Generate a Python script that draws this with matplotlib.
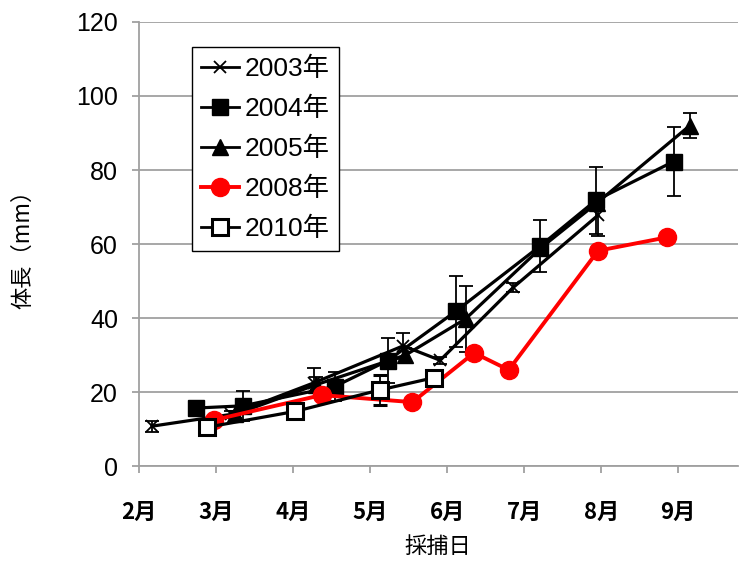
import matplotlib
matplotlib.use("Agg")
import matplotlib.pyplot as plt
from matplotlib.lines import Line2D

plt.rcParams['font.family'] = ['Noto Sans CJK JP', 'DejaVu Sans']

# x in month units (2 = Feb 1, 3 = Mar 1, ...)
x2003 = [2.17, 3.2, 4.27, 5.43, 5.91, 6.86, 7.96]
y2003 = [10.8, 14.0, 22.5, 32.5, 28.6, 48.3, 67.8]
e2003 = [1.5, 1.0, 4.0, 3.5, 1.0, 1.2, 5.5]

x2004 = [2.74, 3.35, 4.54, 5.23, 6.11, 7.21, 7.93, 8.94]
y2004 = [15.7, 16.3, 21.5, 28.5, 41.8, 59.5, 71.8, 82.3]
e2004 = [0.8, 4.0, 4.0, 6.0, 9.5, 7.0, 9.0, 9.3]

x2005 = [3.25, 4.3, 5.46, 6.24, 7.22, 7.94, 9.15]
y2005 = [14.0, 22.0, 30.0, 39.8, 59.0, 71.0, 92.0]
e2005 = [1.0, 2.0, 2.0, 9.0, 2.0, 2.0, 3.4]

x2008 = [2.98, 4.37, 5.55, 6.35, 6.8, 7.96, 8.85]
y2008 = [12.5, 19.2, 17.3, 30.6, 26.0, 58.2, 61.8]

x2010 = [2.88, 4.03, 5.13, 5.83]
y2010 = [10.5, 14.8, 20.6, 23.9]
e2010 = [1.0, 1.5, 4.0, 1.5]

month_ticks = [2, 3, 4, 5, 6, 7, 8, 9]
month_labels = ['2月', '3月', '4月', '5月', '6月', '7月', '8月', '9月']
y_ticks = [0, 20, 40, 60, 80, 100, 120]

fig = plt.figure(figsize=(7.39, 5.63), dpi=100)
ax = fig.add_axes([0.188, 0.172, 0.81, 0.789])

lw = 2.3
ekw = dict(ecolor='black', elinewidth=1.3, capsize=5, capthick=1.3)

styles = {
    '2003年': dict(color='black', marker='x', markersize=8, markeredgewidth=1.3),
    '2004年': dict(color='black', marker='s', markersize=11),
    '2005年': dict(color='black', marker='^', markersize=11),
    '2008年': dict(color='#ff0000', marker='o', markersize=13),
    '2010年': dict(color='black', marker='s', markersize=12,
                  markerfacecolor='white', markeredgewidth=2.2),
}

ax.errorbar(x2003, y2003, yerr=e2003, lw=lw, zorder=3, **styles['2003年'], **ekw)
ax.errorbar(x2004, y2004, yerr=e2004, lw=lw, zorder=3, **styles['2004年'], **ekw)
ax.errorbar(x2005, y2005, yerr=e2005, lw=lw, zorder=3, **styles['2005年'], **ekw)
ax.plot(x2008, y2008, lw=lw + 0.5, zorder=4, **styles['2008年'])
ax.errorbar(x2010, y2010, yerr=e2010, lw=lw, zorder=5, **styles['2010年'], **ekw)

ax.set_xlim(2, 9.77)
ax.set_ylim(0, 120)
ax.set_xticks(month_ticks)
ax.set_xticklabels(month_labels, fontsize=16, fontweight='bold')
ax.set_yticks(y_ticks)
ax.set_yticklabels([str(v) for v in y_ticks], family=['Liberation Sans'], fontsize=18)

ax.grid(axis='y', color='#a0a0a0', lw=1.3)
ax.set_axisbelow(True)
for s in ['top', 'right']:
    ax.spines[s].set_visible(False)
for s in ['left', 'bottom']:
    ax.spines[s].set_color('#a0a0a0')
    ax.spines[s].set_linewidth(1.3)
ax.tick_params(axis='x', direction='out', length=5, color='#a0a0a0', width=1.3, pad=20)
ax.tick_params(axis='y', direction='out', length=5, color='#a0a0a0', width=1.3, pad=10)

ax.set_xlabel('採捕日', fontsize=16, labelpad=8)
ax.set_ylabel('体長（mm）', fontsize=16, labelpad=30)

handles = []
labels = []
for name, st in styles.items():
    handles.append(Line2D([], [], lw=2.0 if name != '2008年' else 2.8, **st))
    labels.append(name)

leg = ax.legend(handles, labels, loc='upper left', bbox_to_anchor=(0.088, 0.943),
                frameon=True, fancybox=False, edgecolor='black', framealpha=1,
                handlelength=1.45, handletextpad=0.22, labelspacing=0.6,
                borderpad=0.35, borderaxespad=0,
                prop={'family': ['Liberation Sans', 'Noto Sans CJK JP'], 'size': 19})
leg.get_frame().set_linewidth(1.0)

fig.savefig('out.png', dpi=100)
